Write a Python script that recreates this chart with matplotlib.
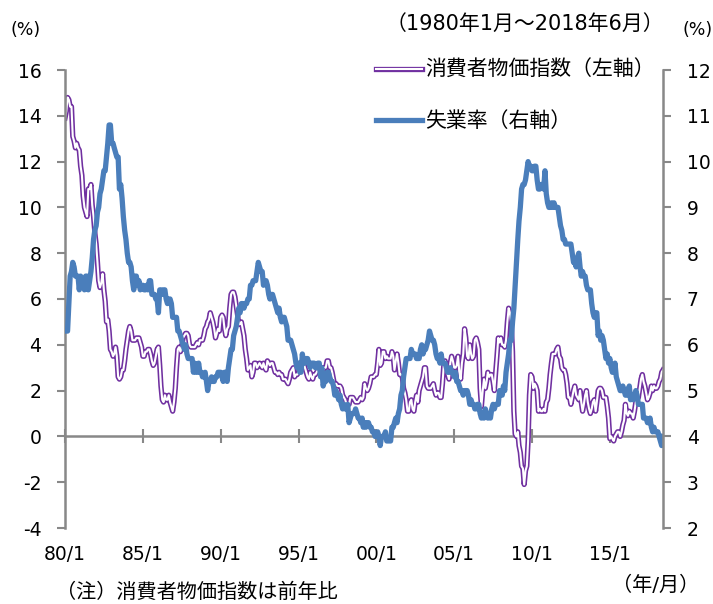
import numpy as np
import pandas as pd
import matplotlib
matplotlib.use("Agg")
import matplotlib.pyplot as plt
from matplotlib.lines import Line2D
from matplotlib.legend_handler import HandlerTuple

plt.rcParams['font.family'] = ['DejaVu Sans', 'Noto Sans CJK JP']
plt.rcParams['axes.unicode_minus'] = False

# 月次データ 1980/1 ～ 2018/6
# 消費者物価指数 前年比 (%)
cpi = [
    13.9, 14.2, 14.8, 14.7, 14.4, 14.4, 13.1, 12.9, 12.6, 12.8, 12.6, 12.5,  # 1980
    11.8, 11.4, 10.5, 10.0, 9.8, 9.6, 10.8, 10.8, 11.0, 10.1, 9.6, 8.9,      # 1981
    8.4, 7.6, 6.8, 6.5, 6.7, 7.1, 6.4, 5.9, 5.0, 5.1, 4.6, 3.8,              # 1982
    3.7, 3.5, 3.6, 3.9, 3.5, 2.6, 2.5, 2.6, 2.9, 2.9, 3.3, 3.8,              # 1983
    4.2, 4.6, 4.8, 4.6, 4.2, 4.2, 4.2, 4.3, 4.3, 4.3, 4.1, 3.9,              # 1984
    3.5, 3.5, 3.7, 3.7, 3.8, 3.8, 3.6, 3.3, 3.1, 3.2, 3.5, 3.8,              # 1985
    3.9, 3.1, 2.2, 1.6, 1.5, 1.8, 1.6, 1.6, 1.8, 1.5, 1.3, 1.1,              # 1986
    1.5, 2.1, 3.0, 3.8, 3.9, 3.7, 3.9, 4.3, 4.4, 4.5, 4.5, 4.4,              # 1987
    4.0, 3.9, 3.9, 3.9, 3.9, 4.0, 4.1, 4.0, 4.2, 4.2, 4.2, 4.4,              # 1988
    4.7, 4.8, 5.0, 5.1, 5.4, 5.2, 5.0, 4.7, 4.3, 4.5, 4.7, 4.6,              # 1989
    5.2, 5.3, 5.2, 4.7, 4.4, 4.7, 4.8, 5.6, 6.2, 6.3, 6.3, 6.1,              # 1990
    5.7, 5.3, 4.9, 4.9, 5.0, 4.7, 4.4, 3.8, 3.4, 2.9, 3.0, 3.1,              # 1991
    2.6, 2.8, 3.2, 3.2, 3.0, 3.1, 3.2, 3.1, 3.0, 3.2, 3.0, 2.9,              # 1992
    3.3, 3.2, 3.1, 3.2, 3.2, 3.0, 2.8, 2.8, 2.7, 2.8, 2.7, 2.7,              # 1993
    2.5, 2.5, 2.5, 2.4, 2.3, 2.5, 2.8, 2.9, 3.0, 2.6, 2.7, 2.7,              # 1994
    2.8, 2.9, 2.9, 3.1, 3.2, 3.0, 2.8, 2.6, 2.5, 2.8, 2.6, 2.5,              # 1995
    2.7, 2.7, 2.8, 2.9, 2.9, 2.8, 3.0, 2.9, 3.0, 3.0, 3.3, 3.3,              # 1996
    3.0, 3.0, 2.8, 2.5, 2.2, 2.3, 2.2, 2.2, 2.2, 2.1, 1.8, 1.7,              # 1997
    1.6, 1.4, 1.4, 1.4, 1.7, 1.7, 1.7, 1.6, 1.5, 1.5, 1.5, 1.6,              # 1998
    1.7, 1.6, 1.7, 2.3, 2.1, 2.0, 2.1, 2.3, 2.6, 2.6, 2.6, 2.7,              # 1999
    2.7, 3.2, 3.8, 3.1, 3.2, 3.7, 3.7, 3.4, 3.5, 3.4, 3.4, 3.4,              # 2000
    3.7, 3.5, 2.9, 3.3, 3.6, 3.2, 2.7, 2.7, 2.6, 2.1, 1.9, 1.6,              # 2001
    1.1, 1.1, 1.5, 1.6, 1.2, 1.1, 1.5, 1.8, 1.5, 2.0, 2.2, 2.4,              # 2002
    2.6, 3.0, 3.0, 2.2, 2.1, 2.1, 2.1, 2.2, 2.3, 2.0, 1.8, 1.9,              # 2003
    1.9, 1.7, 1.7, 2.3, 3.1, 3.3, 3.0, 2.7, 2.5, 3.2, 3.5, 3.3,              # 2004
    3.0, 3.0, 3.1, 3.5, 2.8, 2.5, 3.2, 3.6, 4.7, 4.3, 3.5, 3.4,              # 2005
    4.0, 3.6, 3.4, 3.5, 4.2, 4.3, 4.1, 3.8, 2.1, 1.3, 2.0, 2.5,              # 2006
    2.1, 2.4, 2.8, 2.6, 2.7, 2.7, 2.4, 2.0, 2.8, 3.5, 4.3, 4.1,              # 2007
    4.3, 4.0, 4.0, 3.9, 4.2, 5.0, 5.6, 5.4, 4.9, 3.7, 1.1, 0.1,              # 2008
    0.0, 0.2, -0.4, -0.7, -1.3, -1.4, -2.1, -1.5, -1.3, -0.2, 1.8, 2.7,      # 2009
    2.6, 2.1, 2.3, 2.2, 2.0, 1.1, 1.2, 1.1, 1.1, 1.2, 1.1, 1.5,              # 2010
    1.6, 2.1, 2.7, 3.2, 3.6, 3.6, 3.6, 3.8, 3.9, 3.5, 3.4, 3.0,              # 2011
    2.9, 2.9, 2.7, 2.3, 1.7, 1.7, 1.4, 1.7, 2.0, 2.2, 1.8, 1.7,              # 2012
    1.6, 2.0, 1.5, 1.1, 1.4, 1.8, 2.0, 1.5, 1.2, 1.0, 1.2, 1.5,              # 2013
    1.6, 1.1, 1.5, 2.0, 2.1, 2.1, 2.0, 1.7, 1.7, 1.7, 1.3, 0.8,              # 2014
    -0.1, 0.0, -0.1, -0.2, 0.0, 0.1, 0.2, 0.2, 0.0, 0.2, 0.5, 0.7,          # 2015
    1.4, 1.0, 0.9, 1.1, 1.0, 1.0, 0.8, 1.1, 1.5, 1.6, 1.7, 2.1,              # 2016
    2.5, 2.7, 2.4, 2.2, 1.9, 1.6, 1.7, 1.9, 2.2, 2.0, 2.2, 2.1,              # 2017
    2.1, 2.2, 2.4, 2.5, 2.8, 2.9,                                            # 2018
]

# 失業率 (%)
unemp = [
    6.3, 6.3, 6.3, 6.9, 7.5, 7.6, 7.8, 7.7, 7.5, 7.5, 7.5, 7.2,              # 1980
    7.5, 7.4, 7.4, 7.2, 7.5, 7.5, 7.2, 7.4, 7.6, 7.9, 8.3, 8.5,              # 1981
    8.6, 8.9, 9.0, 9.3, 9.4, 9.6, 9.8, 9.8, 10.1, 10.4, 10.8, 10.8,          # 1982
    10.4, 10.4, 10.3, 10.2, 10.1, 10.1, 9.4, 9.5, 9.2, 8.8, 8.5, 8.3,        # 1983
    8.0, 7.8, 7.8, 7.7, 7.4, 7.2, 7.5, 7.5, 7.3, 7.4, 7.2, 7.3,              # 1984
    7.3, 7.2, 7.2, 7.3, 7.2, 7.4, 7.4, 7.1, 7.1, 7.1, 7.0, 7.0,              # 1985
    6.7, 7.2, 7.2, 7.1, 7.2, 7.2, 7.0, 6.9, 7.0, 7.0, 6.9, 6.6,              # 1986
    6.6, 6.6, 6.6, 6.3, 6.3, 6.2, 6.1, 6.0, 5.9, 6.0, 5.8, 5.7,              # 1987
    5.7, 5.7, 5.7, 5.4, 5.6, 5.4, 5.4, 5.6, 5.4, 5.4, 5.3, 5.3,              # 1988
    5.4, 5.2, 5.0, 5.2, 5.2, 5.3, 5.2, 5.2, 5.3, 5.3, 5.4, 5.4,              # 1989
    5.4, 5.3, 5.2, 5.4, 5.4, 5.2, 5.5, 5.7, 5.9, 5.9, 6.2, 6.3,              # 1990
    6.4, 6.6, 6.8, 6.7, 6.9, 6.9, 6.8, 6.9, 6.9, 7.0, 7.0, 7.3,              # 1991
    7.3, 7.4, 7.4, 7.4, 7.6, 7.8, 7.7, 7.6, 7.6, 7.3, 7.4, 7.4,              # 1992
    7.3, 7.1, 7.0, 7.1, 7.1, 7.0, 6.9, 6.8, 6.7, 6.8, 6.6, 6.5,              # 1993
    6.6, 6.6, 6.5, 6.4, 6.1, 6.1, 6.1, 6.0, 5.9, 5.8, 5.6, 5.5,              # 1994
    5.6, 5.4, 5.4, 5.8, 5.6, 5.6, 5.7, 5.7, 5.6, 5.5, 5.6, 5.6,              # 1995
    5.6, 5.5, 5.5, 5.6, 5.6, 5.3, 5.5, 5.1, 5.2, 5.2, 5.4, 5.4,              # 1996
    5.3, 5.2, 5.2, 5.1, 4.9, 5.0, 4.9, 4.8, 4.9, 4.7, 4.6, 4.7,              # 1997
    4.6, 4.6, 4.7, 4.3, 4.4, 4.5, 4.5, 4.5, 4.6, 4.5, 4.4, 4.4,              # 1998
    4.3, 4.4, 4.2, 4.3, 4.2, 4.3, 4.3, 4.2, 4.2, 4.1, 4.1, 4.0,              # 1999
    4.0, 4.1, 4.0, 3.8, 4.0, 4.0, 4.0, 4.1, 3.9, 3.9, 3.9, 3.9,              # 2000
    4.2, 4.2, 4.3, 4.4, 4.3, 4.5, 4.6, 4.9, 5.0, 5.3, 5.5, 5.7,              # 2001
    5.7, 5.7, 5.7, 5.9, 5.8, 5.8, 5.8, 5.7, 5.7, 5.7, 5.9, 6.0,              # 2002
    5.8, 5.9, 5.9, 6.0, 6.1, 6.3, 6.2, 6.1, 6.1, 6.0, 5.8, 5.7,              # 2003
    5.7, 5.6, 5.8, 5.6, 5.6, 5.6, 5.5, 5.4, 5.4, 5.5, 5.4, 5.4,              # 2004
    5.3, 5.4, 5.2, 5.2, 5.1, 5.0, 5.0, 4.9, 5.0, 5.0, 5.0, 4.9,              # 2005
    4.7, 4.8, 4.7, 4.7, 4.6, 4.6, 4.7, 4.7, 4.5, 4.4, 4.5, 4.4,              # 2006
    4.6, 4.5, 4.4, 4.5, 4.4, 4.6, 4.7, 4.6, 4.7, 4.7, 4.7, 5.0,              # 2007
    5.0, 4.9, 5.1, 5.0, 5.4, 5.6, 5.8, 6.1, 6.1, 6.5, 6.8, 7.3,              # 2008
    7.8, 8.3, 8.7, 9.0, 9.4, 9.5, 9.5, 9.6, 9.8, 10.0, 9.9, 9.9,            # 2009
    9.8, 9.8, 9.9, 9.9, 9.6, 9.4, 9.4, 9.5, 9.5, 9.4, 9.8, 9.3,              # 2010
    9.1, 9.0, 9.0, 9.1, 9.0, 9.1, 9.0, 9.0, 9.0, 8.8, 8.6, 8.5,              # 2011
    8.3, 8.3, 8.2, 8.2, 8.2, 8.2, 8.2, 8.0, 7.8, 7.8, 7.7, 7.9,              # 2012
    8.0, 7.7, 7.5, 7.6, 7.5, 7.5, 7.3, 7.2, 7.2, 7.2, 6.9, 6.7,              # 2013
    6.6, 6.7, 6.7, 6.2, 6.3, 6.1, 6.2, 6.1, 5.9, 5.7, 5.8, 5.6,              # 2014
    5.7, 5.5, 5.4, 5.4, 5.6, 5.3, 5.2, 5.1, 5.0, 5.0, 5.1, 5.0,              # 2015
    4.9, 4.9, 5.0, 5.1, 4.8, 4.9, 4.8, 4.9, 5.0, 4.9, 4.7, 4.7,              # 2016
    4.7, 4.7, 4.4, 4.4, 4.4, 4.3, 4.3, 4.4, 4.2, 4.1, 4.2, 4.1,              # 2017
    4.1, 4.1, 4.0, 3.9, 3.8, 4.0,                                            # 2018
]

dates = pd.date_range('1980-01-01', periods=len(cpi), freq='MS')
tick_years = [1980, 1985, 1990, 1995, 2000, 2005, 2010, 2015]
tick_labels = ['80/1', '85/1', '90/1', '95/1', '00/1', '05/1', '10/1', '15/1']

purple = '#7030A0'
blue = '#4A7EBB'
gray = '#888888'
fs = 15
tfs = 13.5

fig = plt.figure(figsize=(7.13, 6.04), dpi=100)
ax = fig.add_axes([65 / 713, 1 - 528 / 604, 598 / 713, 458 / 604])
ax2 = ax.twinx()

# 消費者物価指数: 紫の縁取り+白抜きの二重線
ax.plot(dates, cpi, color=purple, lw=3.8, solid_joinstyle='round')
ax.plot(dates, cpi, color='white', lw=1.5, solid_joinstyle='round')
ax2.plot(dates, unemp, color=blue, lw=3.8, solid_joinstyle='round')

ax.set_xlim(dates[0], dates[-1])
ax.set_ylim(-4, 16)
ax.set_yticks(range(-4, 17, 2))
ax2.set_ylim(2, 12)
ax2.set_yticks(range(2, 13, 1))

for a in (ax, ax2):
    for s in ['top', 'bottom']:
        a.spines[s].set_visible(False)
ax2.spines['left'].set_visible(False)
ax.spines['right'].set_visible(False)
ax.spines['left'].set_color(gray)
ax.spines['left'].set_linewidth(1.8)
ax2.spines['right'].set_color(gray)
ax2.spines['right'].set_linewidth(1.8)

ax.tick_params(axis='y', colors=gray, length=6, width=1.5, labelcolor='black',
               labelsize=tfs, pad=11)
ax2.tick_params(axis='y', colors=gray, length=6, width=1.5, labelcolor='black',
                labelsize=tfs, pad=11)

# x軸: 0の位置に横線と目盛り、ラベルは下端
ticks = [pd.Timestamp(f'{y}-01-01') for y in tick_years]
ax.set_xticks(ticks)
ax.set_xticklabels(tick_labels, fontsize=tfs)
ax.tick_params(axis='x', length=0, pad=12)
ax.axhline(0, color=gray, lw=1.8, zorder=1)
sec = ax.secondary_xaxis(0.2)
sec.set_xticks(ticks)
sec.set_xticklabels([])
sec.tick_params(axis='x', direction='inout', length=10, width=1.5, colors=gray)
sec.spines['bottom'].set_visible(False)

# 凡例
h1 = (Line2D([], [], color=purple, lw=3.8), Line2D([], [], color='white', lw=1.5))
h2 = Line2D([], [], color=blue, lw=3.8)
fig.legend([h1, h2], ['消費者物価指数（左軸）', '失業率（右軸）'],
           handler_map={tuple: HandlerTuple(ndivide=1, pad=0)},
           loc='upper left', bbox_to_anchor=(376 / 713, 1 - 60 / 604),
           frameon=False, fontsize=fs, handlelength=2.2, handletextpad=0.15,
           labelspacing=1.5, borderaxespad=0, borderpad=0)

fig.text(10 / 713, 1 - 30 / 604, '(%)', fontsize=tfs - 1, va='center', ha='left')
fig.text(682 / 713, 1 - 30 / 604, '(%)', fontsize=tfs - 1, va='center', ha='left')
fig.text(664 / 713, 1 - 24 / 604, '（1980年1月～2018年6月）', fontsize=fs,
         va='center', ha='right')
fig.text(56 / 713, 1 - 592 / 604, '（注）消費者物価指数は前年比', fontsize=fs - 0.5,
         va='center', ha='left')
fig.text(699 / 713, 1 - 585 / 604, '（年/月）', fontsize=fs - 0.5, va='center', ha='right')

fig.savefig('out.png', dpi=100)
